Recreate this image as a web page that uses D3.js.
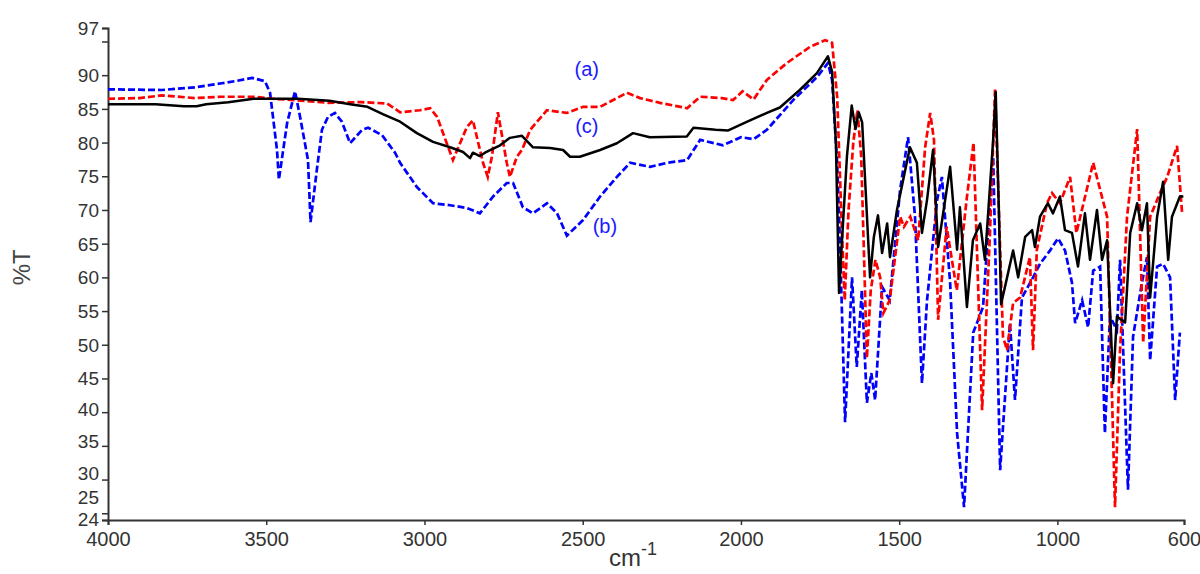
<!DOCTYPE html>
<html>
<head>
<meta charset="utf-8">
<script src="https://cdn.jsdelivr.net/npm/d3@7/dist/d3.min.js"></script>
<style>
	body { margin: 0; background: #fff; }
	svg { display: block; font-family: "Liberation Sans", Arial, sans-serif; }
</style>
</head>
<body>
<svg id="chart" width="1200" height="574"></svg>
<script>
// spectrum (a) - red dashed, [wavenumber, %T]
const spectrumA = [
	[4000,86.5],[3900,86.6],[3830,87.0],[3725,86.6],[3640,86.8],[3540,86.8],[3480,86.5],[3410,86.3],
	[3305,85.9],[3200,86.0],[3118,85.8],[3077,84.5],[3014,84.8],[2982,85.1],[2960,83.8],[2910,77.4],
	[2866,82.3],[2847,83.3],[2815,77.0],[2800,74.9],[2787,77.9],[2768,84.5],[2740,77.0],[2730,74.9],
	[2708,77.9],[2692,78.9],[2666,81.9],[2613,84.8],[2550,84.4],[2499,85.3],[2445,85.3],[2392,86.6],
	[2360,87.4],[2319,86.6],[2256,85.9],[2170,85.1],[2129,86.8],[2060,86.6],[2025,86.3],[1995,87.6],
	[1960,86.4],[1918,89.3],[1855,91.8],[1782,94.2],[1734,95.2],[1712,94.8],[1696,86.8],[1681,67.0],
	[1672,56.6],[1660,70.0],[1645,80.0],[1632,84.8],[1620,78.0],[1602,48.0],[1590,58.0],[1575,62.6],
	[1560,60.0],[1550,54.7],[1530,56.6],[1497,69.0],[1485,67.5],[1465,69.0],[1440,65.5],[1418,79.3],
	[1402,84.4],[1390,80.4],[1377,53.7],[1350,67.5],[1318,58.1],[1287,71.5],[1265,80.0],[1238,40.3],
	[1213,66.6],[1197,88.0],[1185,70.0],[1172,51.2],[1159,49.2],[1140,56.2],[1118,57.0],[1087,63.0],
	[1077,49.2],[1065,64.1],[1033,71.0],[1017,72.5],[992,71.0],[960,74.9],[940,66.6],[887,77.0],
	[843,69.0],[818,25.9],[802,49.2],[780,69.0],[748,82.0],[729,50.3],[707,69.0],[676,72.5],
	[653,74.9],[622,79.5],[606,69.5]
];

// spectrum (b) - blue dashed
const spectrumB = [
	[4000,87.9],[3830,87.8],[3725,88.2],[3640,88.8],[3600,89.1],[3545,89.6],[3504,89.1],[3488,87.4],
	[3466,78.9],[3460,74.5],[3434,82.9],[3409,87.6],[3393,83.8],[3368,77.4],[3360,68.2],[3340,76.0],
	[3324,81.9],[3305,83.8],[3283,84.4],[3261,83.1],[3235,79.9],[3197,81.9],[3178,82.2],[3134,81.1],
	[3093,78.5],[3077,77.0],[3024,73.4],[2973,71.0],[2919,70.7],[2866,70.3],[2825,69.5],[2783,72.0],
	[2740,74.0],[2720,74.0],[2689,70.4],[2657,69.5],[2613,71.0],[2581,69.5],[2550,66.2],[2499,68.5],
	[2445,72.0],[2392,74.9],[2350,77.0],[2287,76.4],[2233,77.0],[2170,77.4],[2129,80.4],[2057,79.6],
	[2000,80.8],[1960,80.5],[1918,81.9],[1835,86.3],[1760,89.7],[1725,91.8],[1712,89.3],[1696,77.0],
	[1687,65.1],[1671,38.5],[1649,60.0],[1634,46.7],[1618,58.1],[1602,41.4],[1588,45.8],[1576,41.8],
	[1554,58.6],[1530,56.6],[1497,73.0],[1472,80.8],[1450,69.0],[1428,44.3],[1412,56.6],[1380,71.5],
	[1365,74.9],[1339,59.2],[1317,36.9],[1295,25.9],[1266,51.8],[1235,55.6],[1203,77.9],[1181,31.4],
	[1150,53.2],[1134,41.8],[1112,57.0],[1077,60.0],[1055,62.0],[1023,64.0],[998,65.8],[976,64.0],
	[954,59.2],[944,53.2],[922,56.6],[903,52.6],[887,61.0],[865,61.6],[850,36.9],[834,54.2],
	[812,52.2],[802,62.6],[777,28.5],[761,51.2],[733,59.2],[717,63.0],[707,47.7],[685,61.6],
	[666,62.0],[644,60.0],[628,41.8],[613,51.8]
];

// spectrum (c) - black solid
const spectrumC = [
	[4000,85.7],[3850,85.7],[3760,85.4],[3720,85.4],[3690,85.7],[3620,86.0],[3540,86.5],[3400,86.5],
	[3300,86.2],[3235,85.7],[3180,85.3],[3130,84.2],[3077,83.1],[3024,81.4],[2973,80.1],[2919,79.3],
	[2878,78.6],[2856,77.7],[2847,78.5],[2825,78.0],[2809,78.5],[2761,79.6],[2730,80.7],[2692,81.0],
	[2657,79.3],[2603,79.2],[2562,78.9],[2540,77.9],[2509,77.9],[2445,78.9],[2392,79.9],[2341,81.4],
	[2288,80.8],[2171,80.9],[2150,82.2],[2080,81.9],[2040,81.8],[1980,83.1],[1918,84.4],[1877,85.2],
	[1814,87.8],[1760,90.3],[1725,92.8],[1712,90.5],[1700,80.0],[1690,57.7],[1680,66.0],[1665,78.0],
	[1650,85.5],[1638,82.0],[1628,84.5],[1617,83.0],[1605,72.0],[1592,60.0],[1580,66.0],[1567,69.2],
	[1554,63.6],[1538,68.0],[1529,63.0],[1507,70.0],[1466,79.3],[1444,77.0],[1428,66.6],[1412,71.5],
	[1393,78.9],[1377,64.5],[1339,76.4],[1317,64.1],[1308,70.4],[1286,55.6],[1267,65.5],[1244,68.0],
	[1229,62.6],[1203,80.4],[1195,87.5],[1185,70.0],[1178,56.0],[1159,60.0],[1140,64.0],[1124,60.0],
	[1102,66.0],[1080,67.0],[1071,64.5],[1055,69.0],[1030,71.0],[1014,69.5],[992,72.0],[976,67.0],
	[954,66.6],[935,61.6],[913,69.5],[897,62.6],[875,70.0],[859,62.6],[843,65.5],[824,44.3],
	[812,54.2],[786,53.3],[770,66.6],[748,71.0],[733,67.0],[717,71.0],[707,57.0],[685,69.0],
	[666,74.2],[650,62.6],[638,69.0],[613,72.0],[602,72.0]
];

const xTicks = [4000, 3500, 3000, 2500, 2000, 1500, 1000, 600];
const yTicks = [24, 25, 30, 35, 40, 45, 50, 55, 60, 65, 70, 75, 80, 85, 90, 95, 97];
const yHidden = [95]; // tick without label

const labels = [
	{text: '(a)', wn: 2487, t: 90.6},
	{text: '(c)', wn: 2487, t: 82.2},
	{text: '(b)', wn: 2430, t: 67.3}
];

var svg = d3.select('#chart');
var margin = {left: 108, right: 16, top: 28, bottom: 54};
var width = 1200, height = 574;

var x = d3.scaleLinear().domain([4000, 600]).range([margin.left, width - margin.right]);
var y = d3.scaleLinear().domain([24, 97]).range([height - margin.bottom, margin.top]);

var line = d3.line()
	.x(function (d) { return x(d[0]) })
	.y(function (d) { return y(d[1]) });

// x axis
var xAxis = svg.append('g')
	.attr('transform', 'translate(0,' + y(24) + ')')
	.call(d3.axisBottom(x).tickValues(xTicks).tickFormat(d3.format('d')).tickSizeOuter(0).tickSize(5).tickPadding(7));
xAxis.selectAll('text').attr('font-size', 20).attr('fill', '#333').attr('font-family', 'Liberation Sans, Arial, sans-serif');

// y axis
var yAxis = svg.append('g')
	.attr('transform', 'translate(' + x(4000) + ',0)')
	.call(d3.axisLeft(y).tickValues(yTicks)
		.tickFormat(function (d) { return yHidden.indexOf(d) >= 0 ? '' : d })
		.tickSizeOuter(0).tickSize(6).tickPadding(3));
yAxis.selectAll('text').attr('font-size', 19).attr('fill', '#333').attr('font-family', 'Liberation Sans, Arial, sans-serif');

// lower labels sit a bit above their ticks, as in the original plot
var yLabelNudge = {24: -1.5, 25: -16, 30: -7, 35: -5, 40: -3};
yAxis.selectAll('.tick text').attr('dy', function (d) {
	return (yLabelNudge[d] ? yLabelNudge[d] : 0) + 6.5 + 'px';
});

[xAxis, yAxis].forEach(function (a) {
	a.select('.domain').attr('stroke', '#333').attr('stroke-width', 2);
	a.selectAll('.tick line').attr('stroke', '#333').attr('stroke-width', 1.5);
});

// spectra
svg.append('path')
	.datum(spectrumB)
	.attr('d', line)
	.attr('fill', 'none')
	.attr('stroke', '#0000ff')
	.attr('stroke-width', 2.7)
	.attr('stroke-dasharray', '7,3');

svg.append('path')
	.datum(spectrumA)
	.attr('d', line)
	.attr('fill', 'none')
	.attr('stroke', '#ff0000')
	.attr('stroke-width', 2.7)
	.attr('stroke-dasharray', '7,3');

svg.append('path')
	.datum(spectrumC)
	.attr('d', line)
	.attr('fill', 'none')
	.attr('stroke', '#000')
	.attr('stroke-width', 2.5)
	.attr('stroke-linejoin', 'round');

// curve labels
svg.append('g').selectAll('text')
	.data(labels)
	.enter().append('text')
	.attr('x', function (d) { return x(d.wn) })
	.attr('y', function (d) { return y(d.t) })
	.attr('text-anchor', 'middle')
	.attr('dominant-baseline', 'middle')
	.attr('font-size', 20)
	.attr('fill', '#1a1aff')
	.text(function (d) { return d.text });

// axis titles
svg.append('text')
	.attr('transform', 'translate(30,' + y(61.5) + ') rotate(-90)')
	.attr('text-anchor', 'middle')
	.attr('font-size', 24)
	.attr('fill', '#444')
	.text('%T');

var xt = svg.append('text')
	.attr('x', 609)
	.attr('y', 566)
	.attr('text-anchor', 'start')
	.attr('font-size', 24)
	.attr('fill', '#333');
xt.append('tspan').text('cm');
xt.append('tspan').attr('font-size', 18).attr('dy', -11).text('-1');
</script>
</body>
</html>
